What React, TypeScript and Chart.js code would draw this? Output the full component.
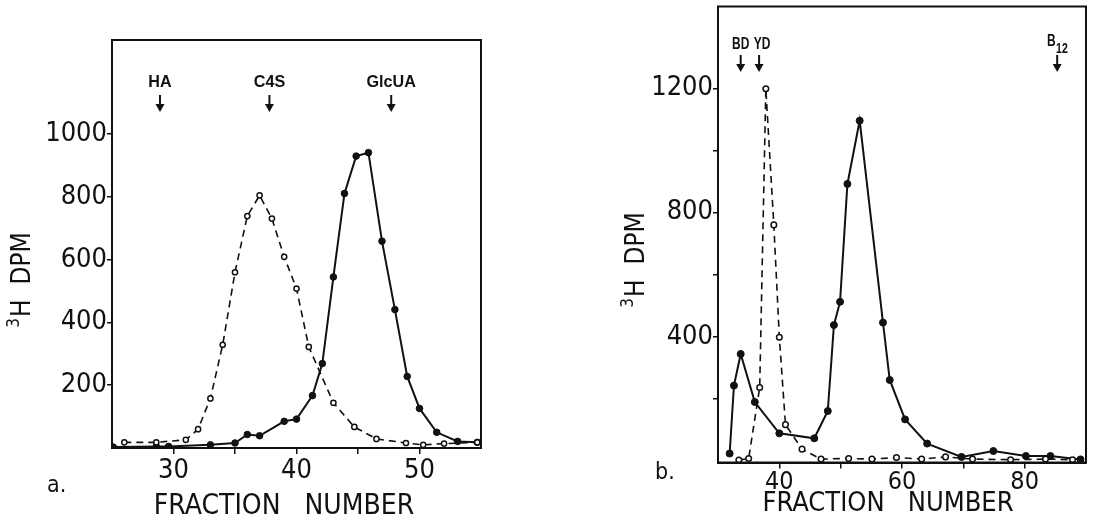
import React, { useEffect, useRef } from 'react';
import { Chart, registerables } from 'chart.js';

Chart.register(...registerables);

// ---------- Panel a data ----------
const aDashedX = [26, 28.6, 31, 32, 33, 34, 35, 36, 37, 38, 39, 40, 41, 43, 44.7, 46.5, 48.9, 50.3, 52, 54.7];
const aDashedY = [18, 18, 26, 60, 158, 329, 560, 739, 805, 731, 609, 508, 322, 144, 67, 29, 16, 10, 14, 18];
const aSolidX = [25.1, 28.6, 29.6, 33, 35, 36, 37, 39, 40, 41.3, 42.1, 43, 43.9, 44.85, 45.85, 46.95, 48, 49, 50, 51.4, 53.1, 54.7];
const aSolidY = [3, 5, 5, 10, 16, 43, 39, 85, 92, 167, 269, 545, 811, 930, 941, 659, 441, 228, 126, 50, 21, 18];
const aTicksX = [30, 35, 40, 45, 50];
const aLabelsX = [30, 40, 50];
const aTicksY = [200, 400, 600, 800, 1000];
const aLabelsY = [200, 400, 600, 800, 1000];
const aMarkerNames = ['HA', 'C4S', 'GlcUA'];
const aMarkerPos = [28.9, 37.8, 47.7];

// ---------- Panel b data ----------
const bSolidX = [31.9, 32.6, 33.7, 36.0, 40.0, 45.7, 47.9, 48.9, 49.9, 51.1, 53.1, 56.9, 58.0, 60.5, 64.1, 69.7, 74.9, 80.2, 84.2, 89.1];
const bSolidY = [23, 242, 344, 189, 88, 72, 160, 437, 512, 892, 1096, 445, 260, 133, 55, 12, 31, 15, 15, 4];
const bDashedX = [33.4, 35.0, 36.8, 37.8, 39.1, 40.0, 41.0, 43.7, 46.8, 51.3, 55.1, 59.1, 63.2, 67.1, 71.5, 77.7, 83.4, 87.8];
const bDashedY = [2, 7, 236, 1199, 760, 398, 116, 37, 5, 7, 5, 10, 5, 12, 5, 3, 5, 3];
const bTicksX = [40, 50, 60, 70, 80];
const bLabelsX = [40, 60, 80];
const bTicksY = [200, 400, 600, 800, 1000, 1200];
const bLabelsY = [400, 800, 1200];
const bMarkerNames = ['BD', 'YD', 'B12'];
const bMarkerPos = [33.7, 36.7, 85.3];

const FONT = "'Liberation Sans Narrow', 'DejaVu Sans Condensed', 'Liberation Sans', sans-serif";
const BOLD = "'Liberation Sans', 'DejaVu Sans', sans-serif";
const INK = '#111';

const pts = (xs: number[], ys: number[]) => xs.map((x, i) => ({ x, y: ys[i] }));

function drawYTitle(ctx: CanvasRenderingContext2D, cx: number, cy: number, size: number) {
  ctx.save();
  ctx.translate(cx, cy);
  ctx.rotate(-Math.PI / 2);
  const big = `${size}px ${FONT}`;
  const small = `${Math.round(size * 0.66)}px ${FONT}`;
  ctx.font = small;
  const w3 = ctx.measureText('3').width;
  ctx.font = big;
  const rest = 'H  DPM';
  const wr = ctx.measureText(rest).width;
  const total = w3 + 1 + wr;
  const base = size * 0.36;
  ctx.fillStyle = INK;
  ctx.textBaseline = 'alphabetic';
  ctx.textAlign = 'left';
  ctx.font = small;
  ctx.fillText('3', -total / 2, base - size * 0.42);
  ctx.font = big;
  ctx.fillText(rest, -total / 2 + w3 + 1, base);
  ctx.restore();
}

function drawMarker(
  ctx: CanvasRenderingContext2D, x: number, label: string, labelX: number, labelY: number,
  y1: number, y2: number, size: number, squeeze: number,
) {
  ctx.save();
  ctx.fillStyle = INK;
  ctx.strokeStyle = INK;
  ctx.save();
  ctx.translate(labelX, labelY);
  ctx.scale(squeeze, 1);
  ctx.textBaseline = 'middle';
  if (label === 'B12') {
    const bigF = `bold ${size}px ${BOLD}`;
    const smallF = `bold ${Math.round(size * 0.85)}px ${BOLD}`;
    ctx.font = bigF;
    const wb = ctx.measureText('B').width;
    ctx.font = smallF;
    const ws = ctx.measureText('12').width;
    const tot = wb + ws;
    ctx.textAlign = 'left';
    ctx.font = bigF;
    ctx.fillText('B', -tot / 2, -3);
    ctx.font = smallF;
    ctx.fillText('12', -tot / 2 + wb + 0.5, 4);
  } else {
    ctx.textAlign = 'center';
    ctx.font = `bold ${size}px ${BOLD}`;
    ctx.fillText(label, 0, 0);
  }
  ctx.restore();
  ctx.lineWidth = 2;
  ctx.beginPath();
  ctx.moveTo(x, y1);
  ctx.lineTo(x, y2 - 6);
  ctx.stroke();
  ctx.beginPath();
  ctx.moveTo(x - 4.5, y2 - 8);
  ctx.lineTo(x + 4.5, y2 - 8);
  ctx.lineTo(x, y2);
  ctx.closePath();
  ctx.fill();
  ctx.restore();
}

type PanelSpec = {
  solid: { x: number; y: number }[];
  dashed: { x: number; y: number }[];
  xMin: number; xMax: number; yMin: number; yMax: number;
  ticksX: number[]; labelsX: number[]; ticksY: number[]; labelsY: number[];
  padTop: number; padRight: number; yWidth: number; xHeight: number;
  xTickSize: number; xTickPad: number;
  markerNames: string[]; markerPos: number[]; markerShift: number[];
  markerLabelDy: number; markerArrow: [number, number]; markerSize: number; markerSqueeze: number;
  yTitle: [number, number]; letter: string; letterPos: [number, number];
  xTitle: [number, number]; xTitleSize: number;
  solidRadius: number; openRadius: number;
};

function buildConfig(s: PanelSpec): any {
  const plugin = {
    id: 'decor',
    afterDraw(chart: any) {
      const { ctx, chartArea: ca, scales } = chart;
      ctx.save();
      ctx.strokeStyle = INK;
      ctx.lineWidth = 2;
      ctx.strokeRect(ca.left, ca.top, ca.right - ca.left, ca.bottom - ca.top);
      s.markerNames.forEach((name, i) => {
        const x = scales.x.getPixelForValue(s.markerPos[i]);
        drawMarker(ctx, x, name, x + s.markerShift[i], ca.top + s.markerLabelDy,
          ca.top + s.markerArrow[0], ca.top + s.markerArrow[1], s.markerSize, s.markerSqueeze);
      });
      drawYTitle(ctx, s.yTitle[0], s.yTitle[1], 26);
      ctx.fillStyle = INK;
      ctx.font = `23px ${FONT}`;
      ctx.textAlign = 'left';
      ctx.textBaseline = 'alphabetic';
      ctx.fillText(s.letter, s.letterPos[0], s.letterPos[1]);
      ctx.font = `${s.xTitleSize}px ${FONT}`;
      ctx.textAlign = 'center';
      ctx.textBaseline = 'middle';
      ctx.fillText('FRACTION   NUMBER', s.xTitle[0], s.xTitle[1]);
      ctx.restore();
    },
  };
  return {
    type: 'line',
    data: {
      datasets: [
        {
          data: s.dashed,
          borderColor: INK,
          borderWidth: 1.6,
          borderDash: [7, 5],
          pointRadius: s.openRadius,
          pointBackgroundColor: '#fff',
          pointBorderColor: INK,
          pointBorderWidth: 1.5,
          tension: 0,
        },
        {
          data: s.solid,
          borderColor: INK,
          borderWidth: 2,
          pointRadius: s.solidRadius,
          pointBackgroundColor: INK,
          pointBorderColor: INK,
          pointBorderWidth: 1,
          tension: 0,
        },
      ],
    },
    options: {
      animation: false,
      responsive: false,
      maintainAspectRatio: false,
      layout: { padding: { left: 0, top: s.padTop, right: s.padRight, bottom: 0 } },
      plugins: { legend: { display: false }, tooltip: { enabled: false } },
      scales: {
        x: {
          type: 'linear',
          min: s.xMin,
          max: s.xMax,
          afterBuildTicks: (sc: any) => { sc.ticks = s.ticksX.map((v) => ({ value: v })); },
          afterFit: (sc: any) => { sc.height = s.xHeight; sc.paddingLeft = 0; sc.paddingRight = 0; },
          ticks: {
            autoSkip: false,
            maxRotation: 0,
            padding: s.xTickPad,
            color: INK,
            font: { family: FONT, size: s.xTickSize },
            callback: (v: number) => (s.labelsX.includes(v) ? String(v) : ''),
          },
          grid: { drawOnChartArea: false, drawTicks: true, tickLength: 6, color: INK, lineWidth: 1.5 },
          border: { display: true, color: INK, width: 2 },
        },
        y: {
          type: 'linear',
          min: s.yMin,
          max: s.yMax,
          afterBuildTicks: (sc: any) => { sc.ticks = s.ticksY.map((v) => ({ value: v })); },
          afterFit: (sc: any) => { sc.width = s.yWidth; sc.paddingTop = 0; sc.paddingBottom = 0; },
          ticks: {
            autoSkip: false,
            padding: 0,
            color: INK,
            font: { family: FONT, size: 27 },
            callback: (v: number) => (s.labelsY.includes(v) ? String(v) : ''),
          },
          grid: { drawOnChartArea: false, drawTicks: true, tickLength: 5, color: INK, lineWidth: 1.5 },
          border: { display: true, color: INK, width: 2 },
        },
      },
    },
    plugins: [plugin],
  };
}

const specA: PanelSpec = {
  solid: pts(aSolidX, aSolidY),
  dashed: pts(aDashedX, aDashedY),
  xMin: 25, xMax: 55, yMin: 0, yMax: 1300,
  ticksX: aTicksX, labelsX: aLabelsX, ticksY: aTicksY, labelsY: aLabelsY,
  padTop: 40, padRight: 65, yWidth: 112, xHeight: 75,
  xTickSize: 27, xTickPad: 1,
  markerNames: aMarkerNames, markerPos: aMarkerPos, markerShift: [0, 0, 0],
  markerLabelDy: 42, markerArrow: [55, 72], markerSize: 17, markerSqueeze: 0.95,
  yTitle: [21, 280], letter: 'a.', letterPos: [47, 492],
  xTitle: [284, 507], xTitleSize: 28,
  solidRadius: 3.3, openRadius: 2.6,
};

const specB: PanelSpec = {
  solid: pts(bSolidX, bSolidY),
  dashed: pts(bDashedX, bDashedY),
  xMin: 30, xMax: 90, yMin: -6, yMax: 1464,
  ticksX: bTicksX, labelsX: bLabelsX, ticksY: bTicksY, labelsY: bLabelsY,
  padTop: 6.5, padRight: 7, yWidth: 172, xHeight: 60.5,
  xTickSize: 25, xTickPad: -1,
  markerNames: bMarkerNames, markerPos: bMarkerPos, markerShift: [0, 3, 0],
  markerLabelDy: 38.5, markerArrow: [48.5, 65.5], markerSize: 16, markerSqueeze: 0.75,
  yTitle: [89, 260], letter: 'b.', letterPos: [109, 479],
  xTitle: [342, 504], xTitleSize: 27,
  solidRadius: 3.5, openRadius: 2.8,
};

function Panel({ spec, left, width }: { spec: PanelSpec; left: number; width: number }) {
  const ref = useRef<HTMLCanvasElement | null>(null);
  useEffect(() => {
    if (!ref.current) return;
    const chart = new Chart(ref.current, buildConfig(spec));
    return () => chart.destroy();
  }, [spec]);
  return (
    <canvas
      ref={ref}
      width={width}
      height={523}
      style={{ position: 'absolute', left, top: 0, width, height: 523 }}
    />
  );
}

export default function App() {
  return (
    <div style={{ position: 'absolute', left: 0, top: 0, width: 1093, height: 523, background: '#fff', overflow: 'hidden' }}>
      <Panel spec={specA} left={0} width={546} />
      <Panel spec={specB} left={546} width={547} />
    </div>
  );
}
